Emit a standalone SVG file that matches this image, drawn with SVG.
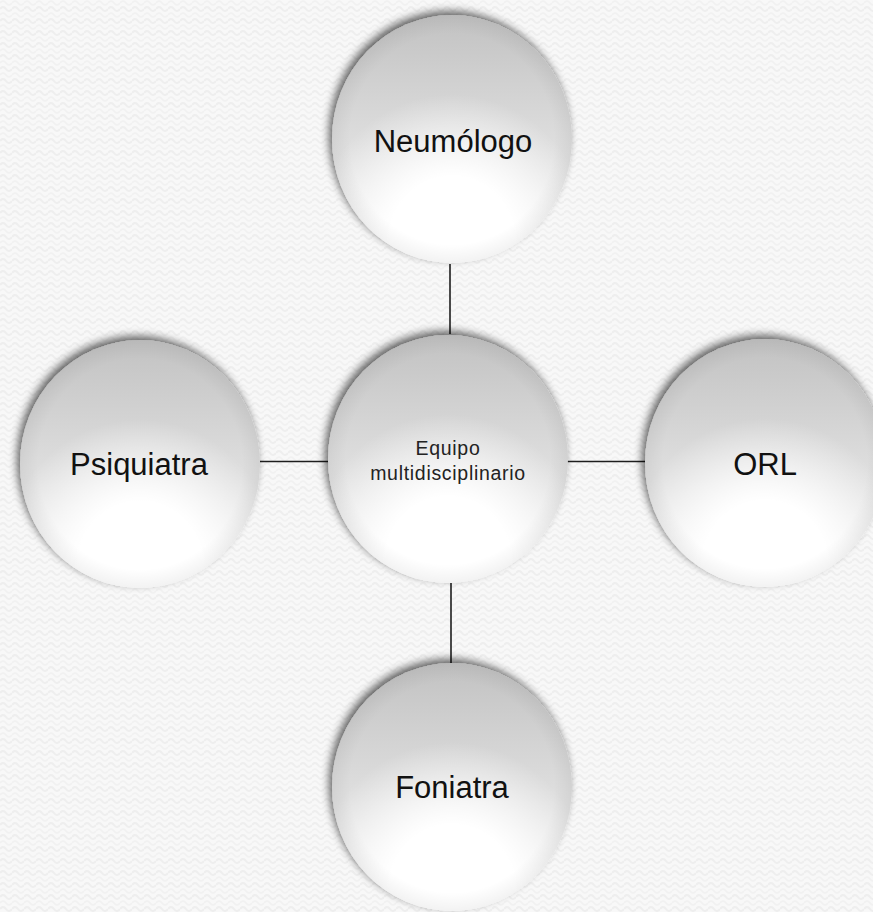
<svg xmlns="http://www.w3.org/2000/svg" width="873" height="912" viewBox="0 0 873 912">
<defs>
<pattern id="bg" width="12" height="12" patternUnits="userSpaceOnUse">
<rect width="12" height="12" fill="#f8f8f8"/>
<path d="M0 9 Q3 5 6 9 T12 9" fill="none" stroke="#eeeeee" stroke-width="2"/>
<path d="M0 3 Q3 -1 6 3 T12 3" fill="none" stroke="#f1f1f1" stroke-width="1.5"/>
</pattern>
<linearGradient id="base" x1="0" y1="0" x2="0" y2="1">
<stop offset="0" stop-color="#c2c2c2"/>
<stop offset="0.45" stop-color="#dadada"/>
<stop offset="1" stop-color="#f6f6f6"/>
</linearGradient>
<radialGradient id="hl" cx="50%" cy="90%" r="58%" fx="50%" fy="92%">
<stop offset="0" stop-color="#ffffff" stop-opacity="1"/>
<stop offset="0.45" stop-color="#ffffff" stop-opacity="1"/>
<stop offset="1" stop-color="#ffffff" stop-opacity="0"/>
</radialGradient>
<radialGradient id="rim" cx="50%" cy="50%" r="50%">
<stop offset="0.85" stop-color="#000" stop-opacity="0"/>
<stop offset="1" stop-color="#000" stop-opacity="0.05"/>
</radialGradient>
<filter id="sh" x="-20%" y="-20%" width="140%" height="140%">
<feGaussianBlur in="SourceAlpha" stdDeviation="4"/>
<feOffset dx="-3" dy="-4" result="b"/>
<feComponentTransfer><feFuncA type="linear" slope="0.6"/></feComponentTransfer>
<feMerge><feMergeNode/><feMergeNode in="SourceGraphic"/></feMerge>
</filter>
</defs>
<style>
.node .b{fill:url(#base);filter:url(#sh)}
.node .h{fill:url(#hl)}
.node .r{fill:url(#rim)}
.lbl{font-family:"Liberation Sans",Arial,sans-serif;font-size:31px;fill:#111;text-anchor:middle}
.sm{font-family:"Liberation Sans",Arial,sans-serif;font-size:19.5px;letter-spacing:0.7px;fill:#222;text-anchor:middle}
.conn line{stroke:#1e1e1e;stroke-width:1.6}
</style>
<rect width="873" height="912" fill="url(#bg)"/>
<g id="connectors" class="conn">
<line x1="450" y1="264" x2="450" y2="334"/>
<line x1="260" y1="461.5" x2="328" y2="461.5"/>
<line x1="567" y1="461.5" x2="645" y2="461.5"/>
<line x1="451" y1="583" x2="451" y2="663"/>
</g>
<g id="neumologo" class="node">
<ellipse class="b" cx="452" cy="139" rx="120" ry="124"/>
<ellipse class="h" cx="452" cy="139" rx="120" ry="124"/>
<ellipse class="r" cx="452" cy="139" rx="120" ry="124"/>
<text class="lbl" x="453" y="152">Neumólogo</text>
</g>
<g id="equipo" class="node">
<ellipse class="b" cx="448" cy="459" rx="120" ry="124"/>
<ellipse class="h" cx="448" cy="459" rx="120" ry="124"/>
<ellipse class="r" cx="448" cy="459" rx="120" ry="124"/>
<text class="sm" x="448" y="455">Equipo</text>
<text class="sm" x="448" y="480">multidisciplinario</text>
</g>
<g id="psiquiatra" class="node">
<ellipse class="b" cx="140" cy="464" rx="120" ry="124"/>
<ellipse class="h" cx="140" cy="464" rx="120" ry="124"/>
<ellipse class="r" cx="140" cy="464" rx="120" ry="124"/>
<text class="lbl" x="139" y="475">Psiquiatra</text>
</g>
<g id="orl" class="node">
<ellipse class="b" cx="765" cy="463" rx="120" ry="124"/>
<ellipse class="h" cx="765" cy="463" rx="120" ry="124"/>
<ellipse class="r" cx="765" cy="463" rx="120" ry="124"/>
<text class="lbl" x="765" y="475">ORL</text>
</g>
<g id="foniatra" class="node">
<ellipse class="b" cx="452" cy="787" rx="120" ry="124"/>
<ellipse class="h" cx="452" cy="787" rx="120" ry="124"/>
<ellipse class="r" cx="452" cy="787" rx="120" ry="124"/>
<text class="lbl" x="452" y="798">Foniatra</text>
</g>
</svg>
